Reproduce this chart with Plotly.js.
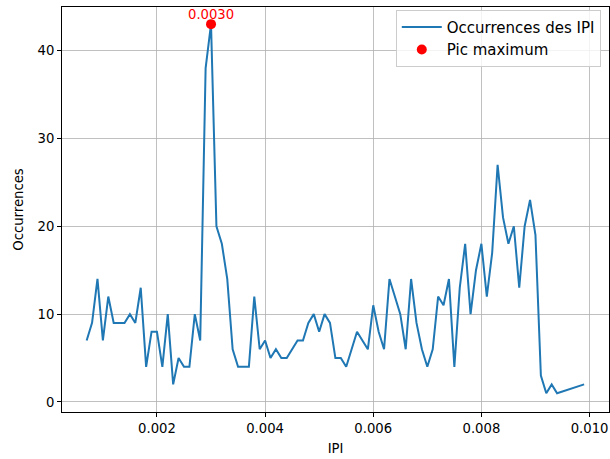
<!DOCTYPE html>
<html>
<head>
<meta charset="utf-8">
<script src="https://cdn.plot.ly/plotly-3.0.1.min.js"></script>
<style>
  html, body { margin: 0; padding: 0; background: #fff; }
  #chart { width: 610px; height: 459px; }
</style>
</head>
<body>
<div id="chart"></div>
<script>
// IPI values (s)
const ipi = [
  0.0007, 0.0008, 0.0009, 0.0010, 0.0011, 0.0012, 0.0013, 0.0014, 0.0015, 0.0016,
  0.0017, 0.0018, 0.0019, 0.0020, 0.0021, 0.0022, 0.0023, 0.0024, 0.0025, 0.0026,
  0.0027, 0.0028, 0.0029, 0.0030, 0.0031, 0.0032, 0.0033, 0.0034, 0.0035, 0.0036,
  0.0037, 0.0038, 0.0039, 0.0040, 0.0041, 0.0042, 0.0043, 0.0044, 0.0045, 0.0046,
  0.0047, 0.0048, 0.0049, 0.0050, 0.0051, 0.0052, 0.0053, 0.0054, 0.0055, 0.0056,
  0.0057, 0.0058, 0.0059, 0.0060, 0.0061, 0.0062, 0.0063, 0.0064, 0.0065, 0.0066,
  0.0067, 0.0068, 0.0069, 0.0070, 0.0071, 0.0072, 0.0073, 0.0074, 0.0075, 0.0076,
  0.0077, 0.0078, 0.0079, 0.0080, 0.0081, 0.0082, 0.0083, 0.0084, 0.0085, 0.0086,
  0.0087, 0.0088, 0.0089, 0.0090, 0.0091, 0.0092, 0.0093, 0.0094, 0.0099
];
// Occurrence counts
const occurrences = [
  7, 9, 14, 7, 12, 9, 9, 9, 10, 9,
  13, 4, 8, 8, 4, 10, 2, 5, 4, 4,
  10, 7, 38, 43, 20, 18, 14, 6, 4, 4,
  4, 12, 6, 7, 5, 6, 5, 5, 6, 7,
  7, 9, 10, 8, 10, 9, 5, 5, 4, 6,
  8, 7, 6, 11, 8, 6, 14, 12, 10, 6,
  14, 9, 6, 4, 6, 12, 11, 14, 4, 13,
  18, 10, 15, 18, 12, 17, 27, 21, 18, 20,
  13, 20, 23, 19, 3, 1, 2, 1, 2
];
const xTicks = [0.002, 0.004, 0.006, 0.008, 0.010];
const yTicks = [0, 10, 20, 30, 40];
const lineLabel = 'Occurrences des IPI';
const peakLabel = 'Pic maximum';

let peakIdx = 0;
occurrences.forEach((v, i) => { if (v > occurrences[peakIdx]) peakIdx = i; });
const peakX = ipi[peakIdx];
const peakY = occurrences[peakIdx];

const font = { family: 'DejaVu Sans, sans-serif', size: 13.2, color: '#000' };
const legendFont = { family: 'DejaVu Sans, sans-serif', size: 15, color: '#000' };

const traces = [
  {
    x: ipi, y: occurrences, type: 'scatter', mode: 'lines', name: lineLabel,
    line: { color: '#1f77b4', width: 2 }
  },
  {
    x: [peakX], y: [peakY], type: 'scatter', mode: 'markers', name: peakLabel,
    marker: { color: '#ff0000', size: 10 }
  }
];

const axisCommon = {
  showline: true, mirror: true, linecolor: '#000', linewidth: 1,
  ticks: 'outside', ticklen: 4, tickwidth: 1, tickcolor: '#000',
  showgrid: true, gridcolor: '#b0b0b0', gridwidth: 0.8,
  zeroline: false, tickfont: font
};

const layout = {
  width: 610, height: 459,
  margin: { l: 62, r: 1, t: 7, b: 47 },
  paper_bgcolor: '#fff', plot_bgcolor: '#fff',
  font: font,
  showlegend: true,
  xaxis: Object.assign({}, axisCommon, {
    range: [0.000244, 0.01036],
    tickvals: xTicks, ticktext: xTicks.map(v => v.toFixed(3)),
    title: { text: 'IPI', font: font, standoff: 8 }
  }),
  yaxis: Object.assign({}, axisCommon, {
    range: [-1.14, 44.95],
    tickvals: yTicks, ticktext: yTicks.map(String),
    title: { text: 'Occurrences', font: font, standoff: 10 }
  }),
  legend: {
    x: 0.985, y: 0.993, xanchor: 'right', yanchor: 'top',
    bgcolor: 'rgba(255,255,255,0.8)', bordercolor: '#cccccc', borderwidth: 1,
    font: legendFont, itemwidth: 40, tracegroupgap: 0
  },
  annotations: [{
    x: peakX, y: peakY, xref: 'x', yref: 'y',
    text: peakX.toFixed(4), showarrow: false,
    yanchor: 'bottom', xanchor: 'center', yshift: 0,
    font: { family: 'DejaVu Sans, sans-serif', size: 13.2, color: '#ff0000' }
  }]
};

Plotly.newPlot('chart', traces, layout, { displayModeBar: false, staticPlot: true });
</script>
</body>
</html>
